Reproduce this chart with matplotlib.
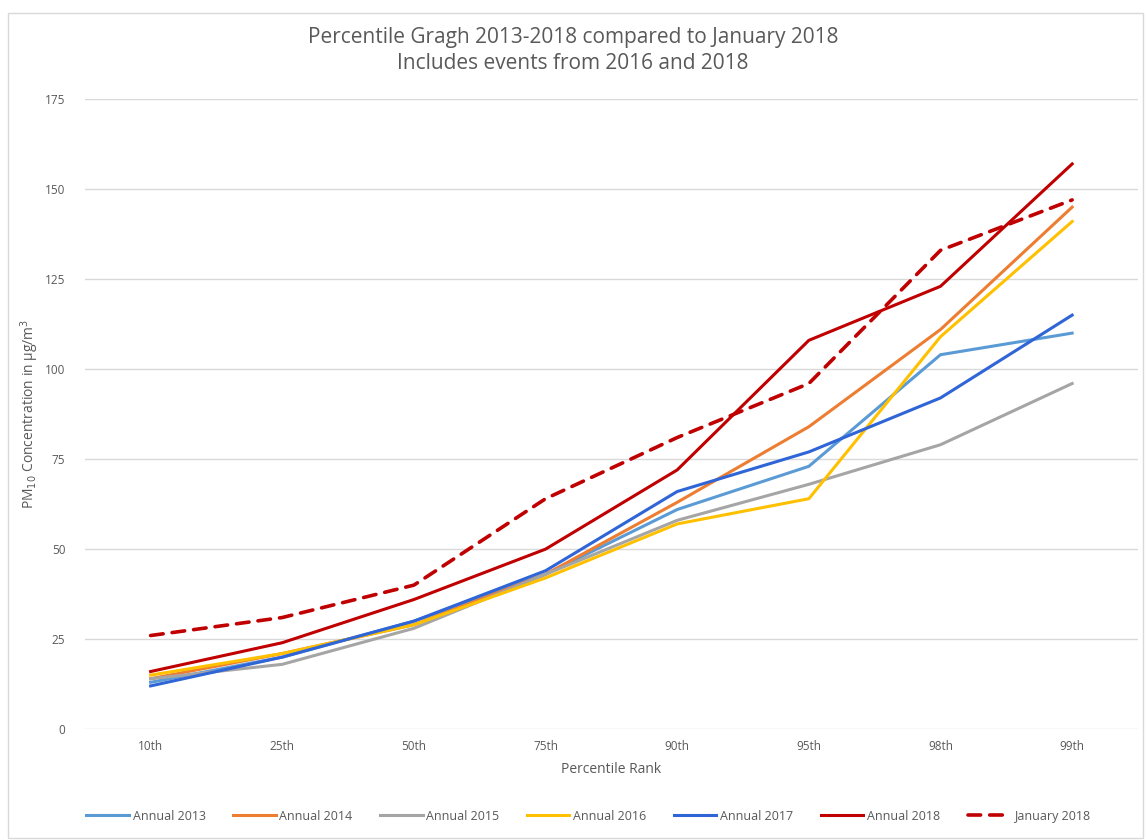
import matplotlib
matplotlib.use("Agg")
import matplotlib.pyplot as plt
from matplotlib.patches import Rectangle

# Percentile ranks on the x axis
ranks = ["10th", "25th", "50th", "75th", "90th", "95th", "98th", "99th"]

# PM10 values
annual_2013 = [13, 20, 30, 43, 61, 73, 104, 110]
annual_2014 = [14, 21, 29, 43, 63, 84, 111, 145]
annual_2015 = [14, 18, 28, 43, 58, 68, 79, 96]
annual_2016 = [15, 21, 29, 42, 57, 64, 109, 141]
annual_2017 = [12, 20, 30, 44, 66, 77, 92, 115]
annual_2018 = [16, 24, 36, 50, 72, 108, 123, 157]
january_2018 = [26, 31, 40, 64, 81, 96, 133, 147]

series_names = ["Annual 2013", "Annual 2014", "Annual 2015", "Annual 2016",
                "Annual 2017", "Annual 2018", "January 2018"]
series_values = [annual_2013, annual_2014, annual_2015, annual_2016,
                 annual_2017, annual_2018, january_2018]
colors = ["#5B9BD5", "#ED7D31", "#A5A5A5", "#FFC000", "#2F65D6", "#C00000", "#C00000"]
styles = ["-", "-", "-", "-", "-", "-", "--"]

plt.rcParams['font.family'] = ['Open Sans', 'DejaVu Sans']
text_grey = "#595959"

fig = plt.figure(figsize=(11.46, 8.4), dpi=100)
ax = fig.add_axes([0.074, 0.132, 0.919, 0.75])

# light frame around the chart like the Excel chart area
fig.patches.append(Rectangle((0.007, 0.002), 0.99, 0.983, transform=fig.transFigure,
                             fill=False, edgecolor="#D9D9D9", linewidth=1))

x = list(range(len(ranks)))
for name, vals, c, ls in zip(series_names, series_values, colors, styles):
    if ls == "--":
        ax.plot(x, vals, color=c, linestyle=(0, (3.5, 2.5)), linewidth=2.6, label=name,
                dash_capstyle="round")
    else:
        ax.plot(x, vals, color=c, linestyle=ls, linewidth=2.2, label=name)

ax.set_xlim(-0.5, len(ranks) - 0.5)
ax.set_ylim(0, 175)
ax.set_yticks(range(0, 176, 25))
ax.set_xticks(x)
ax.set_xticklabels(ranks)
ax.grid(axis="y", color="#D9D9D9", linewidth=1)
ax.set_axisbelow(True)
for s in ax.spines.values():
    s.set_visible(False)
ax.tick_params(length=0, colors=text_grey, labelsize=8.5)
ax.tick_params(axis="y", pad=14)
ax.tick_params(axis="x", pad=8)

ax.set_xlabel("Percentile Rank", color=text_grey, fontsize=10, labelpad=6)
ax.set_ylabel("PM$_{10}$ Concentration in \u00b5g/m$^3$", color=text_grey, fontsize=10)
ax.yaxis.set_label_coords(-0.042, 0.5)

fig.text(0.5, 0.968, "Percentile Gragh 2013-2018 compared to January 2018\nIncludes events from 2016 and 2018",
         ha="center", va="top", color=text_grey, fontsize=15, linespacing=1.3)

ax.legend(loc="upper center", bbox_to_anchor=(0.478, -0.11), ncol=7, frameon=False,
          fontsize=9, handlelength=3.4, handletextpad=0.3, columnspacing=2.2,
          labelcolor=text_grey)

fig.savefig("out.png", dpi=100)
